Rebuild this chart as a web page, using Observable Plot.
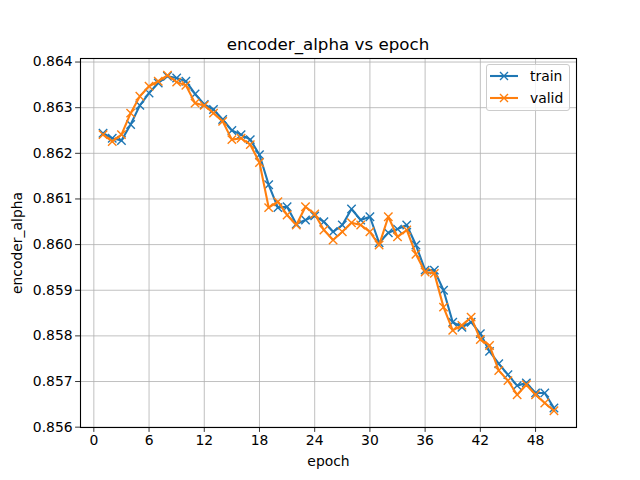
<!DOCTYPE html>
<html>
<head>
<meta charset="utf-8">
<script src="https://cdn.jsdelivr.net/npm/d3@7"></script>
<script src="https://cdn.jsdelivr.net/npm/@observablehq/plot@0.6"></script>
<style>
  html, body { margin: 0; padding: 0; background: #ffffff; }
  #wrap { position: relative; width: 640px; height: 480px; font-family: "DejaVu Sans", sans-serif; color: #000; }
  #title { height: 54px; box-sizing: border-box; padding-top: 34px; width: 656px; text-align: center; font-size: 16.7px; line-height: 20px; }
  #legend { position: absolute; left: 486px; top: 64px; width: 82px; height: 45px; border: 1px solid #cccccc; border-radius: 3px; background: rgba(255,255,255,0.8); }
  .entry { position: absolute; left: 3px; height: 20px; display: flex; align-items: center; font-size: 13.9px; }
  .entry svg { margin-right: 12px; }
</style>
</head>
<body>
<div id="wrap">
  <div id="title">encoder_alpha vs epoch</div>
  <div id="chart"></div>
  <div id="legend"></div>
</div>
<script>
const epochs = [1,2,3,4,5,6,7,8,9,10,11,12,13,14,15,16,17,18,19,20,21,22,23,24,25,26,27,28,29,30,31,32,33,34,35,36,37,38,39,40,41,42,43,44,45,46,47,48,49,50];
const train = [0.86244,0.86233,0.86228,0.86263,0.86305,0.86332,0.86354,0.86369,0.86365,0.86358,
               0.86330,0.86307,0.86296,0.86274,0.86250,0.86241,0.86230,0.86197,0.86131,0.86081,
               0.86083,0.86045,0.86054,0.86063,0.86050,0.86028,0.86043,0.86078,0.86054,0.86061,
               0.86004,0.86026,0.86034,0.86043,0.85999,0.85944,0.85944,0.85900,0.85830,0.85819,
               0.85830,0.85805,0.85766,0.85739,0.85715,0.85691,0.85697,0.85675,0.85675,0.85642];
const valid = [0.86241,0.86226,0.86241,0.86288,0.86325,0.86347,0.86358,0.86371,0.86356,0.86349,
               0.86310,0.86305,0.86288,0.86270,0.86230,0.86233,0.86219,0.86180,0.86081,0.86094,
               0.86065,0.86043,0.86083,0.86067,0.86032,0.86010,0.86028,0.86048,0.86043,0.86028,
               0.85999,0.86061,0.86017,0.86032,0.85979,0.85940,0.85937,0.85863,0.85812,0.85823,
               0.85841,0.85792,0.85779,0.85724,0.85702,0.85671,0.85693,0.85671,0.85653,0.85636];
const seriesNames = ["train", "valid"];
const seriesColors = ["#1f77b4", "#ff7f0e"];
const xTicks = [0, 6, 12, 18, 24, 30, 36, 42, 48];
const yTicks = [0.856, 0.857, 0.858, 0.859, 0.860, 0.861, 0.862, 0.863, 0.864];

const trainRows = epochs.map((e, i) => ({epoch: e, value: train[i]}));
const validRows = epochs.map((e, i) => ({epoch: e, value: valid[i]}));

const allVals = train.concat(valid);
const yMin = d3.min(allVals), yMax = d3.max(allVals);
const yPad = (yMax - yMin) * 0.05;
const xPad = (d3.max(epochs) - d3.min(epochs)) * 0.05;

const chart = Plot.plot({
  width: 640,
  height: 426,
  marginLeft: 80,
  marginRight: 64,
  marginTop: 4,
  marginBottom: 53,
  style: {fontFamily: "DejaVu Sans, sans-serif", fontSize: "13.9px", color: "#000", background: "transparent", overflow: "visible"},
  x: {domain: [d3.min(epochs) - xPad, d3.max(epochs) + xPad]},
  y: {domain: [yMin - yPad, yMax + yPad]},
  marks: [
    Plot.gridX(xTicks, {stroke: "#b0b0b0", strokeOpacity: 1, strokeWidth: 0.8}),
    Plot.gridY(yTicks, {stroke: "#b0b0b0", strokeOpacity: 1, strokeWidth: 0.8}),
    Plot.axisX({ticks: xTicks, tickSize: 4.9, tickPadding: 3, tickFormat: d => String(d), label: "epoch", labelArrow: "none", labelAnchor: "center", labelOffset: 38, stroke: "#000", strokeWidth: 0.8}),
    Plot.axisY({ticks: yTicks, tickSize: 4.9, tickPadding: 3, tickFormat: d3.format(".3f"), label: "encoder_alpha", labelArrow: "none", labelAnchor: "center", labelOffset: 68, stroke: "#000", strokeWidth: 0.8}),
    Plot.line(trainRows, {x: "epoch", y: "value", stroke: seriesColors[0], strokeWidth: 2.1}),
    Plot.dot(trainRows, {x: "epoch", y: "value", symbol: "times", r: 3.9, stroke: seriesColors[0], strokeWidth: 1.4}),
    Plot.line(validRows, {x: "epoch", y: "value", stroke: seriesColors[1], strokeWidth: 2.1}),
    Plot.dot(validRows, {x: "epoch", y: "value", symbol: "times", r: 3.9, stroke: seriesColors[1], strokeWidth: 1.4}),
    Plot.frame({stroke: "#000", strokeWidth: 1.1})
  ]
});
document.getElementById("chart").appendChild(chart);

// Legend
const legend = document.getElementById("legend");
seriesNames.forEach((name, i) => {
  const div = document.createElement("div");
  div.className = "entry";
  div.style.top = (1 + i * 22) + "px";
  const svg = d3.create("svg").attr("width", 28).attr("height", 20);
  svg.append("line").attr("x1", 0).attr("x2", 28).attr("y1", 10).attr("y2", 10)
     .attr("stroke", seriesColors[i]).attr("stroke-width", 2.1);
  svg.append("path").attr("d", "M10,6L18,14M10,14L18,6")
     .attr("stroke", seriesColors[i]).attr("stroke-width", 1.4);
  div.appendChild(svg.node());
  const span = document.createElement("span");
  span.textContent = name;
  div.appendChild(span);
  legend.appendChild(div);
});
</script>
</body>
</html>
